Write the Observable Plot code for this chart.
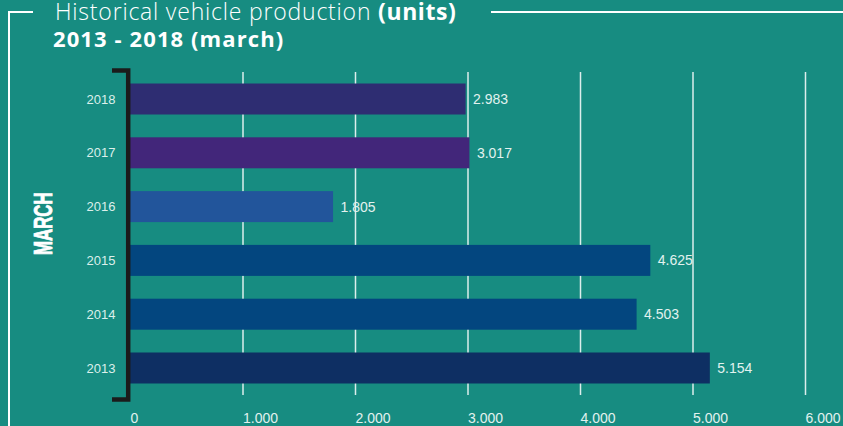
<!DOCTYPE html>
<html>
<head>
<meta charset="utf-8">
<script src="https://cdn.jsdelivr.net/npm/d3@7"></script>
<script src="https://cdn.jsdelivr.net/npm/@observablehq/plot@0.6"></script>
<style>
  html, body { margin: 0; padding: 0; }
  body { width: 843px; height: 426px; overflow: hidden; position: relative; background: #178c81; font-family: "Liberation Sans", Arial, sans-serif; }
  .line { position: absolute; background: #ffffff; }
  #title { position: absolute; left: 55px; top: -1px; font-family: "Open Sans", "Liberation Sans", sans-serif; font-size: 23px; line-height: 24px; color: #ffffff; white-space: nowrap; font-weight: 300; letter-spacing: 0.8px; }
  #title b { font-weight: 700; letter-spacing: 0.6px; }
  #subtitle { position: absolute; left: 53px; top: 27px; font-family: "Open Sans", "Liberation Sans", sans-serif; font-size: 22px; line-height: 23px; color: #ffffff; font-weight: 700; white-space: nowrap; letter-spacing: 1.1px; }
  #chart { position: absolute; left: 0; top: 0; }
</style>
</head>
<body>
<div class="line" style="left:8px;top:11px;width:2px;height:420px;"></div>
<div class="line" style="left:8px;top:11px;width:25px;height:2px;"></div>
<div class="line" style="left:491px;top:11px;width:352px;height:2px;"></div>
<div id="title">Historical vehicle production <b>(units)</b></div>
<div id="subtitle">2013 - 2018 (march)</div>
<div id="chart"></div>
<script>
// ---- data ----
const years = ["2018", "2017", "2016", "2015", "2014", "2013"];
const units = [2983, 3017, 1805, 4625, 4503, 5154];
const barColors = ["#2e2d72", "#42267a", "#22559b", "#03467f", "#03467f", "#0e2f63"];
const xTicks = [0, 1000, 2000, 3000, 4000, 5000, 6000];
const seriesLabel = "MARCH";

const fmt = d3.formatLocale({decimal: ",", thousands: ".", grouping: [3], currency: ["", ""]}).format(",d");
const rows = years.map((y, i) => ({year: y, value: units[i], color: barColors[i]}));

const plot = Plot.plot({
  width: 843,
  height: 426,
  marginTop: 72,
  marginBottom: 31,
  marginLeft: 130,
  marginRight: 38,
  style: {background: "transparent", fontFamily: "'Liberation Sans', Arial, sans-serif", color: "#dcefeb", overflow: "visible"},
  x: {domain: [0, 6000]},
  y: {domain: years, paddingInner: 0.424, paddingOuter: 0.214, round: false},
  marks: [
    Plot.gridX(xTicks.slice(1), {stroke: "#ffffff", strokeOpacity: 0.85, strokeWidth: 1.5}),
    Plot.barX(rows, {y: "year", x: "value", fill: "color"}),
    Plot.text(rows, {y: "year", x: "value", text: d => fmt(d.value), textAnchor: "start", dx: 7, fill: "#e2f2ef", fontSize: 14}),
    Plot.axisX(xTicks, {tickSize: 0, tickPadding: 18, textAnchor: "start", tickFormat: fmt, fontSize: 14, fill: "#e2f2ef", label: null}),
    Plot.axisY({tickSize: 0, tickPadding: 15, fontSize: 13, fill: "#dcefeb", label: null})
  ]
});
document.getElementById("chart").appendChild(plot);

// decoration: black bracket along the value axis origin, and the rotated series label
const svg = d3.select(plot);
const xOrigin = plot.scale("x").apply(0);
const bracketTop = 72 - 1.5, bracketBottom = 426 - 31 + 4.5;
svg.append("path")
  .attr("d", `M${xOrigin - 18},${bracketTop} H${xOrigin - 1.8} V${bracketBottom} H${xOrigin - 18}`)
  .attr("fill", "none").attr("stroke", "#1b1b1b").attr("stroke-width", 4.5);
svg.append("text")
  .attr("transform", "translate(51.7,223.7) rotate(-90) scale(0.66,1)")
  .attr("text-anchor", "middle")
  .attr("fill", "#ffffff")
  .attr("stroke", "#ffffff")
  .attr("stroke-width", 0.8)
  .attr("font-weight", 700)
  .attr("font-size", 25.6)
  .attr("font-family", "'Liberation Sans', Arial, sans-serif")
  .text(seriesLabel);
</script>
</body>
</html>
